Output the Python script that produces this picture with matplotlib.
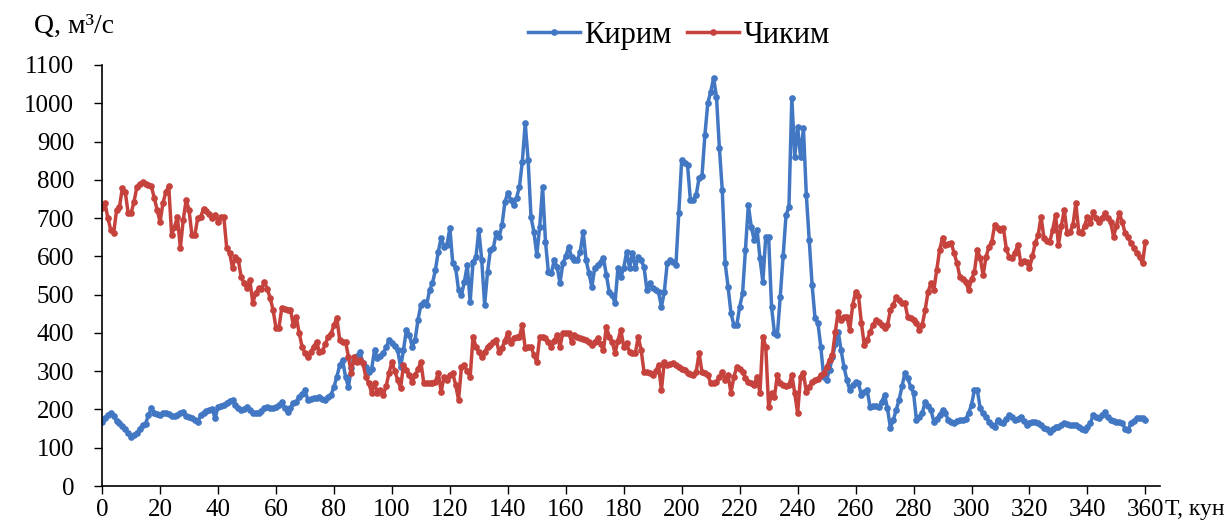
import numpy as np
import matplotlib
matplotlib.use("Agg")
from matplotlib import pyplot as plt

# daily inflow (Кирим) and outflow (Чиким), m3/s
kirim = [167,178,186,190,183,170,164,158,150,138,
         129,132,138,150,159,163,185,203,192,188,
         186,190,192,188,184,183,185,190,194,184,
         180,177,172,167,185,190,195,199,201,177,
         207,210,212,218,222,225,212,203,199,201,
         207,198,190,192,190,196,203,207,205,203,
         207,212,220,205,194,205,217,220,233,240,
         251,225,228,229,231,233,228,225,233,238,
         259,285,316,329,285,259,308,329,340,350,
         321,311,298,305,355,334,340,347,362,381,
         373,365,355,311,355,408,395,364,381,434,
         473,481,473,512,530,564,612,648,625,630,
         674,582,570,512,499,533,577,481,585,598,
         669,590,473,559,617,622,661,651,682,742,
         766,747,734,753,781,847,948,852,703,664,
         604,677,781,638,559,556,590,573,530,582,
         600,625,598,590,590,612,664,590,556,520,
         570,577,585,596,551,507,499,478,570,546,
         570,612,570,609,570,598,590,572,512,530,
         517,512,507,468,507,582,590,585,577,713,
         852,845,839,747,747,760,805,810,917,1000,
         1030,1066,1017,883,773,582,520,452,420,420,
         468,503,617,734,677,643,670,596,533,651,
         650,468,400,395,494,600,708,729,1014,860,
         938,860,935,760,643,525,439,426,363,285,
         278,303,337,370,403,355,311,277,251,264,
         272,268,238,245,251,206,208,210,206,220,
         238,203,152,172,199,225,260,295,282,259,
         243,172,180,190,220,210,199,168,175,186,
         199,190,172,168,164,170,172,172,175,190,
         212,251,251,203,190,180,168,160,155,172,
         168,164,175,186,180,172,175,181,170,160,
         165,168,166,164,160,152,148,142,150,155,
         155,160,164,162,160,160,160,155,150,146,
         155,164,186,180,177,185,194,180,172,170,
         168,166,164,150,146,164,170,177,177,177,
         172]

chikim = [726,739,700,669,661,721,729,779,768,713,
          713,742,781,790,794,790,786,783,753,721,
          690,739,768,783,656,677,703,622,695,747,
          721,656,656,700,703,724,718,710,700,708,
          690,703,703,622,609,570,598,590,546,530,
          517,538,478,504,517,515,533,515,491,460,
          413,413,465,462,460,460,421,442,400,364,
          347,338,350,364,377,350,352,370,390,398,
          420,439,381,377,377,338,295,338,324,330,
          321,285,270,243,269,243,250,238,260,295,
          324,300,277,256,316,303,290,272,290,305,
          324,269,270,269,270,272,295,246,285,277,
          290,295,264,225,311,316,300,285,390,364,
          350,338,350,364,368,375,381,350,360,380,
          400,373,386,390,390,421,360,362,364,342,
          324,390,388,386,375,364,380,395,364,400,
          400,400,377,395,390,386,383,381,375,368,
          377,386,370,355,416,390,377,347,380,408,
          364,373,350,347,347,390,355,298,298,295,
          290,300,316,251,324,316,318,321,315,311,
          305,303,295,292,290,298,347,298,295,290,
          269,270,272,285,298,277,290,243,285,311,
          305,298,282,272,268,264,285,243,390,364,
          206,243,233,290,270,264,262,264,290,243,
          190,285,295,246,259,272,277,280,290,295,
          311,329,342,403,455,434,442,442,408,473,
          507,497,426,368,381,403,420,434,428,421,
          413,420,460,473,494,485,478,478,442,438,
          434,426,408,421,460,507,530,512,564,617,
          648,630,632,635,609,582,546,540,533,512,
          540,559,617,596,551,598,625,638,682,675,
          669,674,620,598,596,610,630,582,587,585,
          569,600,635,656,703,648,640,638,669,708,
          630,680,721,661,664,682,739,664,661,680,
          703,687,716,700,690,700,713,700,690,651,
          680,713,690,661,650,635,622,610,598,582,
          638]

days = np.arange(len(kirim))
xticks = np.arange(0, 361, 20)
yticks = np.arange(0, 1101, 100)

plt.rcParams['font.family'] = ['Liberation Serif', 'DejaVu Serif']

fig = plt.figure(figsize=(12.3, 5.24), dpi=100)
ax = fig.add_axes([0.083, 0.0725, 0.860, 0.8035])

ax.plot(days, kirim, color='#4177C3', lw=2.5, marker='o', ms=3.8, label='Кирим')
ax.plot(days, chikim, color='#C6423D', lw=2.5, marker='o', ms=3.8, label='Чиким')

ax.set_xlim(0, 365)
ax.set_ylim(0, 1100)
ax.set_xticks(xticks)
ax.set_yticks(yticks)
ax.tick_params(axis='both', labelsize=18, length=6, width=1, direction='out')
ax.tick_params(axis='y', pad=14)
ax.tick_params(axis='x', pad=3)
for s in ['top', 'right']:
    ax.spines[s].set_visible(False)
for s in ['left', 'bottom']:
    ax.spines[s].set_linewidth(1.2)

fig.text(0.028, 0.950, 'Q, м³/с', fontsize=20, ha='left', va='center')
fig.text(0.9475, 0.027, 'Т, кун', fontsize=17, ha='left', va='center')

fig.legend(loc='center', bbox_to_anchor=(0.552, 0.933), ncol=2, frameon=False,
           fontsize=22, handlelength=1.7, handletextpad=0.15, columnspacing=0.5)

plt.savefig('out.png', dpi=100)
